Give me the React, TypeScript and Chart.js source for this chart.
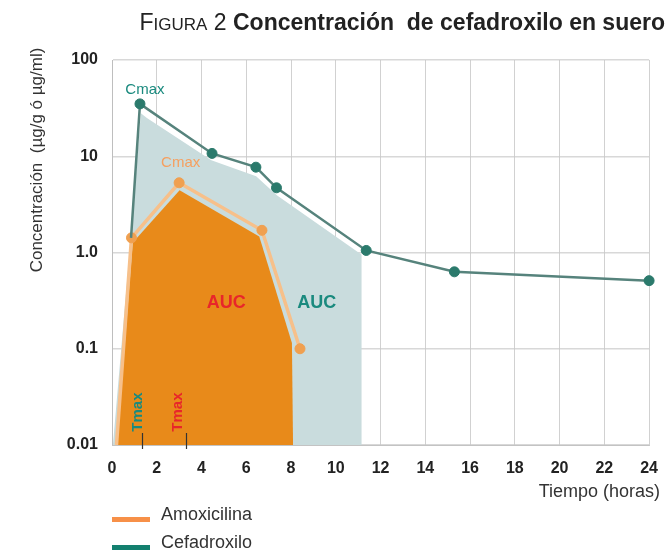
import React, { useEffect, useRef } from "react";
import Chart from "chart.js/auto";

// ---- data ----
const amoxHours = [0.2, 0.87, 3.0, 6.7, 8.4];
const amoxConc = [0.01, 1.42, 5.3, 1.7, 0.1];
const amoxMarker = [0, 5, 5, 5, 5];

const cefaHours = [0.85, 1.25, 4.47, 6.43, 7.35, 11.36, 15.3, 24];
const cefaConc = [1.42, 35, 10.7, 7.7, 4.7, 1.05, 0.63, 0.51];
const cefaMarker = [0, 5, 5, 5, 5, 5, 5, 5];

// AUC shaded areas (outline of area under each curve)
const amoxAucHours = [0.22, 0.93, 3.02, 6.58, 8.04, 8.09];
const amoxAucConc = [0.01, 1.27, 4.43, 1.47, 0.115, 0.01];
const cefaAucHours = [0.04, 0.84, 1.29, 1.56, 4.44, 6.44, 7.38, 11.16, 11.16];
const cefaAucConc = [0.01, 1.43, 28, 24.9, 9.09, 6.19, 3.92, 0.95, 0.01];

const yTicks = [0.01, 0.1, 1, 10, 100];
const yTickLabels = ["0.01", "0.1", "1.0", "10", "100"];

const tmaxCefa = 1.35;
const tmaxAmox = 3.3;

// annotations: [text, hour, conc, color, bold, size, rotate]
const notes: [string, number, number, string, boolean, number, boolean][] = [
  ["Cmax", 1.47, 48.7, "#1a8a7e", false, 15, false],
  ["Cmax", 3.07, 8.45, "#f5a060", false, 15, false],
  ["AUC", 5.1, 0.3, "#e8262a", true, 18, false],
  ["AUC", 9.15, 0.3, "#1a8a7e", true, 18, false],
  ["Tmax", 1.15, 0.022, "#1a8a7e", true, 15, true],
  ["Tmax", 2.95, 0.022, "#e8262a", true, 15, true],
];

const FONT = "'Liberation Sans', Arial, sans-serif";

const toXY = (xs: number[], ys: number[]) => xs.map((x, i) => ({ x, y: ys[i] }));

const extras = {
  id: "extras",
  afterDatasetsDraw(chart: any) {
    const ctx = chart.ctx;
    const xs = chart.scales.x;
    const ys = chart.scales.y;
    ctx.save();
    notes.forEach(([t, h, c, col, bold, size, rot]) => {
      const px = xs.getPixelForValue(h);
      const py = ys.getPixelForValue(c);
      ctx.fillStyle = col;
      ctx.font = `${bold ? "bold " : ""}${size}px ${FONT}`;
      ctx.textAlign = "center";
      ctx.textBaseline = "middle";
      if (rot) {
        ctx.save();
        ctx.translate(px, py);
        ctx.rotate(-Math.PI / 2);
        ctx.fillText(t, 0, 0);
        ctx.restore();
      } else {
        ctx.fillText(t, px, py);
      }
    });
    const bottom = chart.chartArea.bottom;
    ctx.strokeStyle = "#333";
    ctx.lineWidth = 1.2;
    [tmaxCefa, tmaxAmox].forEach((h) => {
      const px = Math.round(xs.getPixelForValue(h)) + 0.5;
      ctx.beginPath();
      ctx.moveTo(px, bottom - 12);
      ctx.lineTo(px, bottom + 4);
      ctx.stroke();
    });
    ctx.restore();
  },
  afterDraw(chart: any) {
    const ctx = chart.ctx;
    ctx.save();
    const parts: [string, string][] = [
      ["F", `23px ${FONT}`],
      ["IGURA", `17px ${FONT}`],
      [" 2 ", `23px ${FONT}`],
      ["Concentración  de cefadroxilo en suero", `bold 23px ${FONT}`],
    ];
    let total = 0;
    parts.forEach(([t, f]) => {
      ctx.font = f;
      total += ctx.measureText(t).width;
    });
    let x = 665 - total;
    ctx.fillStyle = "#222";
    ctx.textBaseline = "alphabetic";
    ctx.textAlign = "left";
    parts.forEach(([t, f]) => {
      ctx.font = f;
      ctx.fillText(t, x, 30);
      x += ctx.measureText(t).width;
    });
    ctx.font = `17px ${FONT}`;
    ctx.fillStyle = "#333";
    ctx.textAlign = "center";
    ctx.textBaseline = "middle";
    ctx.save();
    ctx.translate(37, 160);
    ctx.rotate(-Math.PI / 2);
    ctx.fillText("Concentración  (µg/g ó µg/ml)", 0, 0);
    ctx.restore();
    ctx.font = `18px ${FONT}`;
    ctx.textAlign = "right";
    ctx.fillText("Tiempo (horas)", 660, 492);
    const leg: [string, string, number][] = [
      ["Amoxicilina", "#f79048", 515],
      ["Cefadroxilo", "#13806f", 543],
    ];
    leg.forEach(([t, col, y]) => {
      ctx.fillStyle = col;
      ctx.fillRect(112, y + 2, 38, 5);
      ctx.fillStyle = "#333";
      ctx.textAlign = "left";
      ctx.fillText(t, 161, y);
    });
    ctx.restore();
  },
};

export default function App() {
  const ref = useRef<HTMLCanvasElement>(null);
  useEffect(() => {
    if (!ref.current) return;
    const chart = new Chart(ref.current, {
      type: "line",
      data: {
        datasets: [
          {
            label: "Cefadroxilo",
            data: toXY(cefaHours, cefaConc),
            borderColor: "#56837c",
            borderWidth: 2.5,
            pointRadius: cefaMarker,
            pointBackgroundColor: "#2b7a6c",
            pointBorderColor: "#2b7a6c",
            pointBorderWidth: 1,
            fill: false,
            clip: false as any,
            order: 0,
          },
          {
            label: "Amoxicilina",
            data: toXY(amoxHours, amoxConc),
            borderColor: "#f7c08a",
            borderWidth: 3.5,
            pointRadius: amoxMarker,
            pointBackgroundColor: "#f0a050",
            pointBorderColor: "#f0a050",
            pointBorderWidth: 1,
            fill: false,
            clip: false as any,
            order: 1,
          },
          {
            label: "AUC amox",
            data: toXY(amoxAucHours, amoxAucConc),
            borderWidth: 0,
            borderColor: "rgba(0,0,0,0)",
            backgroundColor: "#e88a1a",
            pointRadius: 0,
            fill: "start",
            order: 2,
          },
          {
            label: "AUC cefa",
            data: toXY(cefaAucHours, cefaAucConc),
            borderWidth: 0,
            borderColor: "rgba(0,0,0,0)",
            backgroundColor: "#c9dcdd",
            pointRadius: 0,
            fill: "start",
            order: 3,
          },
        ],
      },
      options: {
        animation: false,
        responsive: false,
        layout: { padding: { top: 60, right: 20, left: 0, bottom: 0 } },
        plugins: { legend: { display: false }, tooltip: { enabled: false } },
        scales: {
          x: {
            type: "linear",
            min: 0,
            max: 24,
            z: 1,
            afterFit: (s: any) => {
              s.height = 107;
            },
            ticks: {
              stepSize: 2,
              padding: 14,
              color: "#222",
              font: { family: FONT, size: 16, weight: "bold" },
            },
            grid: { color: "rgba(185,185,185,0.65)", lineWidth: 1, drawTicks: false },
            border: { color: "rgba(185,185,185,0.8)" },
          },
          y: {
            type: "logarithmic",
            min: 0.01,
            max: 100,
            z: 1,
            afterFit: (s: any) => {
              s.width = 112;
            },
            afterBuildTicks: (s: any) => {
              s.ticks = yTicks.map((v) => ({ value: v }));
            },
            ticks: {
              padding: 14,
              color: "#222",
              font: { family: FONT, size: 16, weight: "bold" },
              callback: (v: any) => {
                const i = yTicks.findIndex((t) => Math.abs(t - v) < 1e-9);
                return i >= 0 ? yTickLabels[i] : "";
              },
            },
            grid: { color: "rgba(200,200,200,0.7)", lineWidth: 1.5, drawTicks: false },
            border: { color: "rgba(185,185,185,0.8)" },
          },
        },
      },
      plugins: [extras],
    });
    return () => chart.destroy();
  }, []);
  return (
    <div style={{ position: "fixed", left: 0, top: 0, width: 672, height: 552, background: "#fff" }}>
      <canvas ref={ref} width={672} height={552} style={{ display: "block", width: 672, height: 552 }} />
    </div>
  );
}
